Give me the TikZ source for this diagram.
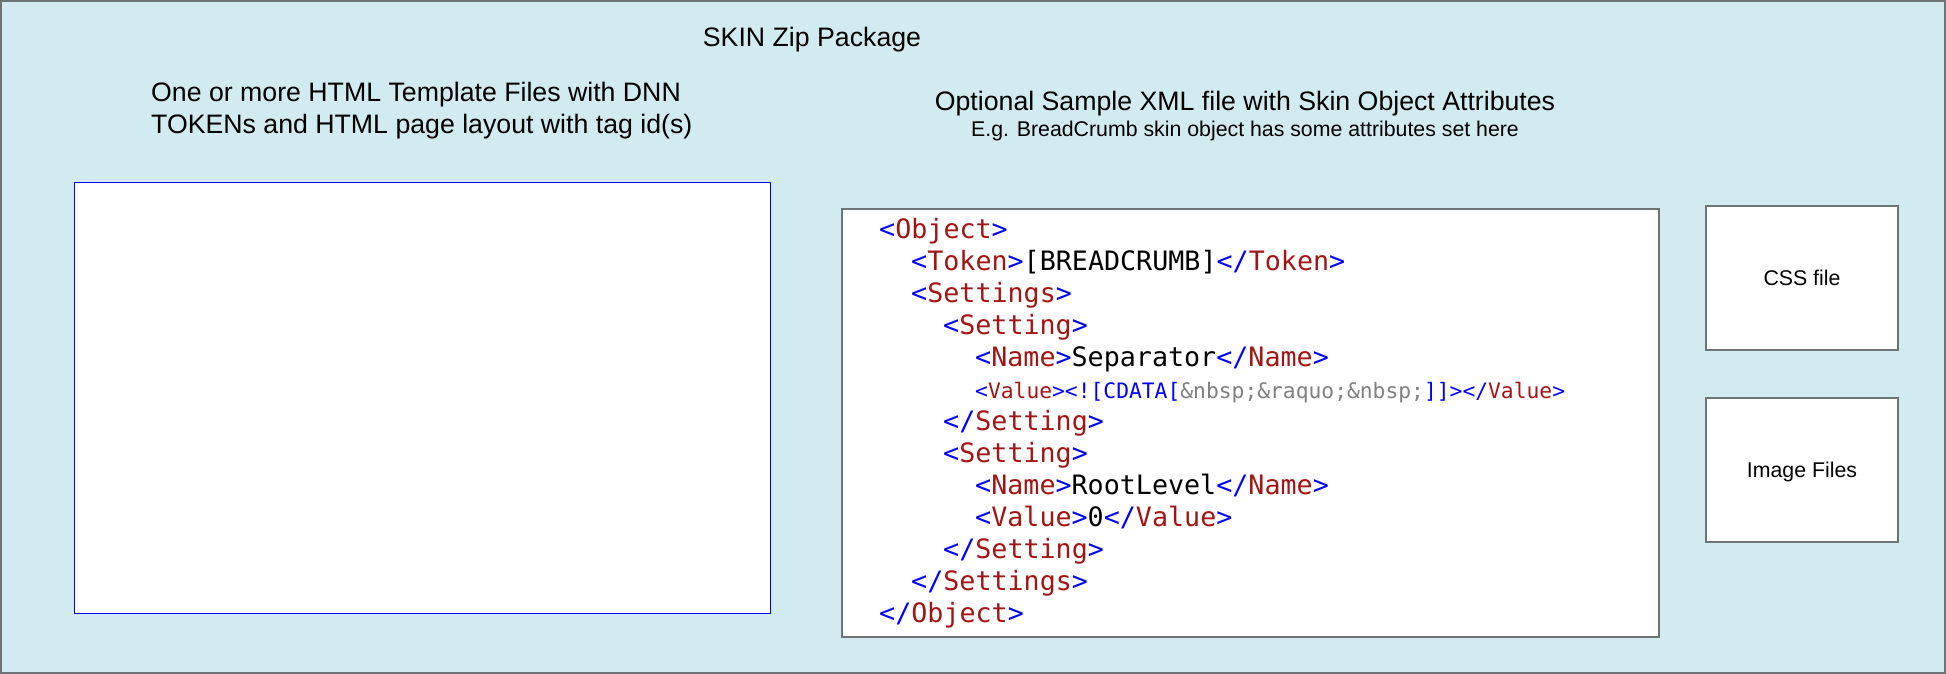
\documentclass[tikz,border=0pt]{standalone}
\usepackage{fontspec}
\setmainfont{Liberation Sans}
\newfontfamily\xmlfont{DejaVu Sans Mono}
\definecolor{bgc}{RGB}{210,235,240}
\definecolor{bdc}{RGB}{110,115,118}
\definecolor{tagr}{RGB}{163,21,21}
\definecolor{tagb}{RGB}{0,0,255}
\definecolor{entg}{RGB}{128,128,128}
\newcommand{\xb}[1]{\textcolor{tagb}{#1}}
\newcommand{\xr}[1]{\textcolor{tagr}{#1}}
\newcommand{\xg}[1]{\textcolor{entg}{#1}}
\begin{document}
\begin{tikzpicture}[x=1pt,y=-1pt,
  lbl/.style={inner sep=0pt, anchor=base, font=\fontsize{26.7}{32}\selectfont},
  sublbl/.style={inner sep=0pt, anchor=base, font=\fontsize{21.3}{25}\selectfont},
  xmlline/.style={inner sep=0pt, anchor=base west, font=\xmlfont\fontsize{26.7}{32}\selectfont},
  xmlsmall/.style={inner sep=0pt, anchor=base west, font=\xmlfont\fontsize{21.3}{25}\selectfont},
  filebox/.style={draw=bdc, line width=1.5pt, fill=white, inner sep=0pt, text depth=0pt,
    font=\fontsize{21.3}{25}\selectfont},
]
\useasboundingbox (0,0) rectangle (1946,674);
\node[draw=bdc, fill=bgc, line width=1.5pt, minimum width=1944pt, minimum height=672pt,
  inner sep=0pt] (pkg) at (973,337) {};
\node[lbl] (title) at (812,47) {SKIN Zip Package};
\node[lbl, anchor=base west] (html1) at (151,102) {One or more HTML Template Files with DNN};
\node[lbl, anchor=base west] (html2) at (151,134) {TOKENs and HTML page layout with tag id(s)};
\node[lbl] (xmlcap1) at (1245,111) {Optional Sample XML file with Skin Object Attributes};
\node[sublbl] (xmlcap2) at (1245,137) {E.g. BreadCrumb skin object has some attributes set here};
\node[draw=blue, line width=1pt, fill=white, minimum width=696pt, minimum height=431pt,
  inner sep=0pt] (htmlbox) at (422,397.5) {};
\node[draw=bdc, line width=1.5pt, fill=white, minimum width=817pt, minimum height=428pt,
  inner sep=0pt] (xmlbox) at (1250.5,423) {};
\node[filebox, minimum width=192pt, minimum height=144pt] (css) at (1802,278) {CSS file};
\node[filebox, minimum width=192pt, minimum height=144pt] (img) at (1802,470) {Image Files};
% XML listing
\node[xmlline] (l1) at (879,238) {\xb{<}\xr{Object}\xb{>}};
\node[xmlline] (l2) at (911,270) {\xb{<}\xr{Token}\xb{>}[BREADCRUMB]\xb{</}\xr{Token}\xb{>}};
\node[xmlline] (l3) at (911,302) {\xb{<}\xr{Settings}\xb{>}};
\node[xmlline] (l4) at (943,334) {\xb{<}\xr{Setting}\xb{>}};
\node[xmlline] (l5) at (975,366) {\xb{<}\xr{Name}\xb{>}Separator\xb{</}\xr{Name}\xb{>}};
\node[xmlsmall] (l6) at (975,398) {\xb{<}\xr{Value}\xb{><![CDATA[}\xg{\&nbsp;\&raquo;\&nbsp;}\xb{]]></}\xr{Value}\xb{>}};
\node[xmlline] (l7) at (943,430) {\xb{</}\xr{Setting}\xb{>}};
\node[xmlline] (l8) at (943,462) {\xb{<}\xr{Setting}\xb{>}};
\node[xmlline] (l9) at (975,494) {\xb{<}\xr{Name}\xb{>}RootLevel\xb{</}\xr{Name}\xb{>}};
\node[xmlline] (l10) at (975,526) {\xb{<}\xr{Value}\xb{>}0\xb{</}\xr{Value}\xb{>}};
\node[xmlline] (l11) at (943,558) {\xb{</}\xr{Setting}\xb{>}};
\node[xmlline] (l12) at (911,590) {\xb{</}\xr{Settings}\xb{>}};
\node[xmlline] (l13) at (879,622) {\xb{</}\xr{Object}\xb{>}};
\end{tikzpicture}
\end{document}
